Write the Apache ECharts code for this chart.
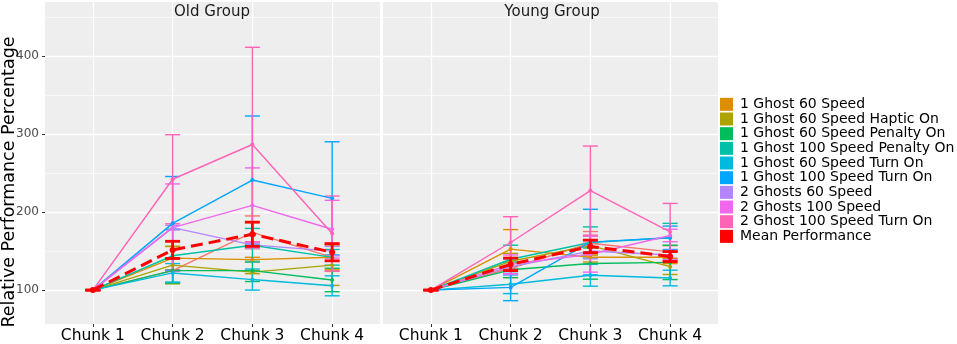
<!DOCTYPE html>
<html>
<head>
<meta charset="utf-8">
<script src="https://cdn.jsdelivr.net/npm/echarts@6/dist/echarts.min.js"></script>
<style>
  html, body { margin: 0; padding: 0; background: #fff; }
  #main { width: 957px; height: 344px; }
</style>
</head>
<body>
<div id="main"></div>
<script>
const chunks = ['Chunk 1', 'Chunk 2', 'Chunk 3', 'Chunk 4']
const groups = ['Old Group', 'Young Group']
const yTitle = 'Relative Performance Percentage'
const yMajor = [100, 200, 300, 400]
const yMinor = [150, 250, 350, 450]

// first entry is drawn in the plot but not listed in the legend
const conditions = [
  'Unlisted Condition',
  '1 Ghost 60 Speed',
  '1 Ghost 60 Speed Haptic On',
  '1 Ghost 60 Speed Penalty On',
  '1 Ghost 100 Speed Penalty On',
  '1 Ghost 60 Speed Turn On',
  '1 Ghost 100 Speed Turn On',
  '2 Ghosts 60 Speed',
  '2 Ghosts 100 Speed',
  '2 Ghost 100 Speed Turn On',
  'Mean Performance',
]
const colors = ['#F8766D', '#DB8E00', '#AEA200', '#00BD5C', '#00C1A7', '#00BADE', '#00A6FF', '#B385FF', '#EF67EB', '#FF63B6', '#FF0000']

const oldValues = [
  [100, 125, 174, 142],
  [100, 141, 139, 142],
  [100, 132, 123, 132],
  [100, 125, 125, 113],
  [100, 144, 157.5, 142],
  [100, 122, 113.5, 105.5],
  [100, 185.5, 241, 217.5],
  [100, 180, 158, 150],
  [100, 180, 208.5, 178],
  [100, 242, 286.5, 172.5],
  [100, 151.5, 171.5, 148.5],
]
const oldErrors = [
  [0, 16, 21, 18],
  [0, 15, 3, 16],
  [0, 24, 2, 26],
  [0, 16, 14, 15],
  [0, 34, 21.5, 10],
  [0, 12, 13.5, 12.8],
  [0, 60, 82, 72.5],
  [0, 3, 4, 6],
  [0, 56, 48, 37],
  [0, 57, 124.5, 48],
  [0, 11, 15.5, 11],
]
const youngValues = [
  [100, 128, 160, 149],
  [100, 152.5, 142, 142],
  [100, 137, 157, 130],
  [100, 126, 134, 135.5],
  [100, 139.5, 161, 167],
  [100, 107.5, 119, 115.5],
  [100, 103.5, 161.5, 167],
  [100, 130, 150, 145],
  [100, 133, 146, 170],
  [100, 161, 227.5, 174.5],
  [100, 133, 156, 143],
]
const youngErrors = [
  [0, 12, 15, 8],
  [0, 25, 6, 8],
  [0, 10, 12, 10],
  [0, 10, 20, 22],
  [0, 18, 20, 18.5],
  [0, 12, 14, 10],
  [0, 17, 42, 15],
  [0, 10, 10, 6],
  [0, 12, 23, 8],
  [0, 33, 57, 36.5],
  [0, 8, 8, 6.4],
]

var font = 'DejaVu Sans'
var myChart = echarts.init(document.getElementById('main'))

var gridLines = function () {
  var white = (w) => ({ color: '#fff', width: w, type: 'solid' })
  return [].concat(
    yMajor.map((v) => ({ yAxis: v, lineStyle: white(1.3) })),
    yMinor.map((v) => ({ yAxis: v, lineStyle: white(0.6) })),
    chunks.map((c, k) => ({ xAxis: k + 1, lineStyle: white(1.3) }))
  )
}

var series = []
groups.forEach((g, gi) => {
  var vals = gi === 0 ? oldValues : youngValues
  var errs = gi === 0 ? oldErrors : youngErrors
  // 背景网格线
  series.push({
    type: 'line',
    xAxisIndex: gi,
    yAxisIndex: gi,
    data: [],
    silent: true,
    z: 1,
    markLine: {
      z: 1,
      silent: true,
      symbol: ['none', 'none'],
      label: { show: false },
      emphasis: { disabled: true },
      data: gridLines(),
    },
  })
  conditions.forEach((name, ci) => {
    var isMean = ci === conditions.length - 1
    var color = colors[ci]
    // error bars
    series.push({
      name: name,
      type: 'custom',
      xAxisIndex: gi,
      yAxisIndex: gi,
      z: isMean ? 5 : 3,
      silent: true,
      itemStyle: { color: color },
      data: vals[ci].map((v, k) => [k + 1, v - errs[ci][k], v + errs[ci][k]]),
      renderItem: function (params, api) {
        var x = api.value(0)
        var lo = api.coord([x, api.value(1)])
        var hi = api.coord([x, api.value(2)])
        var w = 7.5
        var style = { stroke: color, lineWidth: isMean ? 2.8 : 1.4 }
        return {
          type: 'group',
          children: [
            { type: 'line', shape: { x1: lo[0], y1: lo[1], x2: hi[0], y2: hi[1] }, style: style },
            { type: 'line', shape: { x1: lo[0] - w, y1: lo[1], x2: lo[0] + w, y2: lo[1] }, style: style },
            { type: 'line', shape: { x1: hi[0] - w, y1: hi[1], x2: hi[0] + w, y2: hi[1] }, style: style },
          ],
        }
      },
    })
    series.push({
      name: name,
      type: 'line',
      xAxisIndex: gi,
      yAxisIndex: gi,
      z: isMean ? 6 : 4,
      data: vals[ci].map((v, k) => [k + 1, v]),
      symbol: 'circle',
      symbolSize: isMean ? 6 : 4,
      itemStyle: { color: color },
      lineStyle: { color: color, width: isMean ? 3 : 1.4, type: isMean ? [12, 6] : 'solid' },
      emphasis: { disabled: true },
    })
  })
})

var option = {
  animation: false,
  textStyle: { fontFamily: font },
  grid: [
    { left: 45, top: 2, width: 335, height: 323, show: true, backgroundColor: '#EEEEEE', borderWidth: 0 },
    { left: 383, top: 2, width: 335, height: 323, show: true, backgroundColor: '#EEEEEE', borderWidth: 0 },
  ],
  xAxis: groups.map((g, gi) => ({
    type: 'value',
    gridIndex: gi,
    min: 0.4,
    max: 4.6,
    splitLine: { show: false },
    axisLine: { show: false },
    axisTick: { show: true, length: 3, customValues: [1, 2, 3, 4], lineStyle: { color: '#333' } },
    axisLabel: {
      customValues: [1, 2, 3, 4],
      formatter: (v) => chunks[Math.round(v) - 1],
      fontSize: 15.5,
      color: '#000',
      margin: 4,
    },
  })),
  yAxis: groups.map((g, gi) => ({
    type: 'value',
    gridIndex: gi,
    min: 56.6,
    max: 469,
    splitLine: { show: false },
    axisLine: { show: false },
    axisTick: { show: gi === 0, length: 3, customValues: yMajor, lineStyle: { color: '#333' } },
    axisLabel: { show: gi === 0, customValues: yMajor, fontSize: 12, color: '#4D4D4D', margin: 6 },
  })),
  legend: {
    orient: 'vertical',
    left: 720,
    top: 97,
    padding: 0,
    itemWidth: 13,
    itemHeight: 13,
    itemGap: 0,
    selectedMode: false,
    textStyle: { fontSize: 14, color: '#000', fontFamily: font, lineHeight: 14.67, padding: [0, 0, 0, 2] },
    data: conditions.slice(1).map((name, i) => ({ name: name, icon: 'rect', itemStyle: { color: colors[i + 1] } })),
  },
  graphic: [
    { type: 'text', x: 212, y: 12, z: 100, style: { text: groups[0], align: 'center', verticalAlign: 'middle', fontSize: 15, fontFamily: font, fill: '#1A1A1A' } },
    { type: 'text', x: 552, y: 12, z: 100, style: { text: groups[1], align: 'center', verticalAlign: 'middle', fontSize: 15, fontFamily: font, fill: '#1A1A1A' } },
    {
      type: 'text',
      x: 9,
      y: 182,
      rotation: Math.PI / 2,
      z: 100,
      style: { text: yTitle, align: 'center', verticalAlign: 'middle', fontSize: 17.5, fontFamily: font, fill: '#000' },
    },
  ],
  series: series,
}
option && myChart.setOption(option)
</script>
</body>
</html>
